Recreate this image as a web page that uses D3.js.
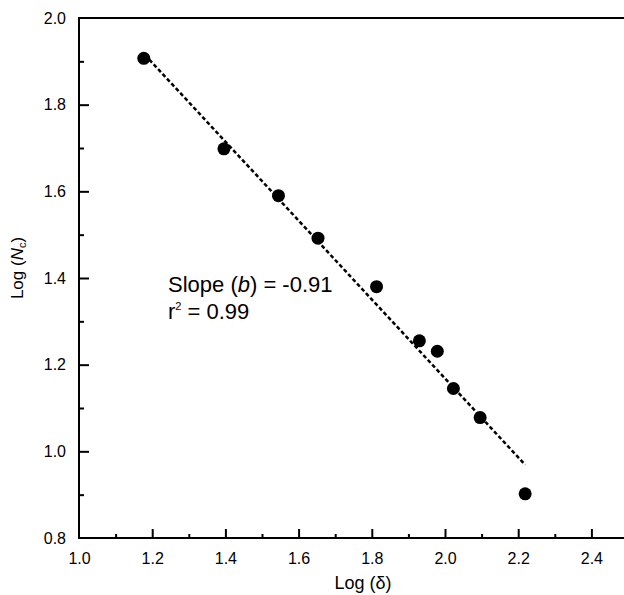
<!DOCTYPE html>
<html>
<head>
<meta charset="utf-8">
<script src="https://cdn.jsdelivr.net/npm/d3@7"></script>
<style>
  html, body { margin: 0; padding: 0; background: #fff; }
  svg { display: block; }
  text { font-family: "Liberation Sans", Arial, sans-serif; fill: #000; }
</style>
</head>
<body>
<svg id="chart" width="624" height="595"></svg>
<script>
// Data
const logDelta = [1.177, 1.396, 1.545, 1.653, 1.813, 1.930, 1.979, 2.023, 2.096, 2.219];
const logNc    = [1.907, 1.698, 1.590, 1.492, 1.380, 1.255, 1.231, 1.145, 1.078, 0.902];
const fitX = [1.18, 2.219];
const fitY = [1.915, 0.969];
const xMajorTicks = [1.0, 1.2, 1.4, 1.6, 1.8, 2.0, 2.2, 2.4];
const xMinorTicks = [1.1, 1.3, 1.5, 1.7, 1.9, 2.1, 2.3, 2.5];
const yMajorTicks = [0.8, 1.0, 1.2, 1.4, 1.6, 1.8, 2.0];
const yMinorTicks = [0.9, 1.1, 1.3, 1.5, 1.7, 1.9];

const svg = d3.select("#chart");
const mLeft = 79, mTop = 18, mBottom = 538, mRightEdge = 630;

const x = d3.scaleLinear().domain([1.0, 2.4]).range([mLeft, mLeft + 1.4 * 366]);
const y = d3.scaleLinear().domain([0.8, 2.0]).range([mBottom, mTop]);

const fmt = d3.format(".1f");

// X axis: major ticks with labels
const gx = svg.append("g").attr("transform", `translate(0,${mBottom})`)
  .call(d3.axisBottom(x).tickValues(xMajorTicks).tickFormat(fmt).tickSize(-9).tickSizeOuter(0).tickPadding(15));
gx.select(".domain").remove();
gx.selectAll(".tick line").attr("stroke", "#000").attr("stroke-width", 2);
gx.selectAll(".tick text").attr("font-size", 16).attr("font-family", "Liberation Sans, Arial, sans-serif");
gx.selectAll(".tick").filter(d => d === 1.0).select("line").remove();

const gxm = svg.append("g").attr("transform", `translate(0,${mBottom})`)
  .call(d3.axisBottom(x).tickValues(xMinorTicks).tickFormat("").tickSize(-4).tickSizeOuter(0));
gxm.select(".domain").remove();
gxm.selectAll(".tick line").attr("stroke", "#000").attr("stroke-width", 2);

// Y axis
const gy = svg.append("g").attr("transform", `translate(${mLeft},0)`)
  .call(d3.axisLeft(y).tickValues(yMajorTicks).tickFormat(fmt).tickSize(-10).tickSizeOuter(0).tickPadding(13));
gy.select(".domain").remove();
gy.selectAll(".tick line").attr("stroke", "#000").attr("stroke-width", 2);
gy.selectAll(".tick text").attr("font-size", 16).attr("font-family", "Liberation Sans, Arial, sans-serif");
gy.selectAll(".tick").filter(d => d === 0.8 || d === 2.0).select("line").remove();

const gym = svg.append("g").attr("transform", `translate(${mLeft},0)`)
  .call(d3.axisLeft(y).tickValues(yMinorTicks).tickFormat("").tickSize(-5).tickSizeOuter(0));
gym.select(".domain").remove();
gym.selectAll(".tick line").attr("stroke", "#000").attr("stroke-width", 2);

// Frame lines
svg.append("line").attr("x1", mLeft).attr("x2", mRightEdge).attr("y1", mBottom).attr("y2", mBottom)
  .attr("stroke", "#000").attr("stroke-width", 2);
svg.append("line").attr("x1", mLeft).attr("x2", mRightEdge).attr("y1", mTop).attr("y2", mTop)
  .attr("stroke", "#000").attr("stroke-width", 2);
svg.append("line").attr("x1", mLeft).attr("x2", mLeft).attr("y1", mTop - 1).attr("y2", mBottom + 1)
  .attr("stroke", "#000").attr("stroke-width", 2);

// Fit line
svg.append("path")
  .datum(fitX.map((v, i) => [v, fitY[i]]))
  .attr("d", d3.line().x(d => x(d[0])).y(d => y(d[1])))
  .attr("fill", "none").attr("stroke", "#000").attr("stroke-width", 2.5)
  .attr("stroke-dasharray", "4,2.5");

// Points
svg.append("g").selectAll("circle")
  .data(logDelta.map((v, i) => [v, logNc[i]]))
  .join("circle")
  .attr("cx", d => x(d[0])).attr("cy", d => y(d[1])).attr("r", 6.5)
  .attr("fill", "#000");

// Axis titles
svg.append("text").attr("x", 363).attr("y", 589).attr("text-anchor", "middle")
  .attr("font-size", 18).text("Log (δ)");

const yt = svg.append("text").attr("transform", "translate(23,268) rotate(-90)")
  .attr("text-anchor", "middle").attr("font-size", 17);
yt.append("tspan").text("Log (");
yt.append("tspan").attr("font-style", "italic").text("N");
yt.append("tspan").attr("font-size", 11).attr("dy", 3).text("c");
yt.append("tspan").attr("dy", -3).text(")");

// Annotation
const a1 = svg.append("text").attr("x", 168).attr("y", 292).attr("font-size", 22);
a1.append("tspan").text("Slope (");
a1.append("tspan").attr("font-style", "italic").text("b");
a1.append("tspan").text(") = -0.91");

const a2 = svg.append("text").attr("x", 168).attr("y", 319).attr("font-size", 22);
a2.append("tspan").text("r");
a2.append("tspan").attr("font-size", 11).attr("dy", -9).text("2");
a2.append("tspan").attr("dy", 9).text(" = 0.99");
</script>
</body>
</html>
